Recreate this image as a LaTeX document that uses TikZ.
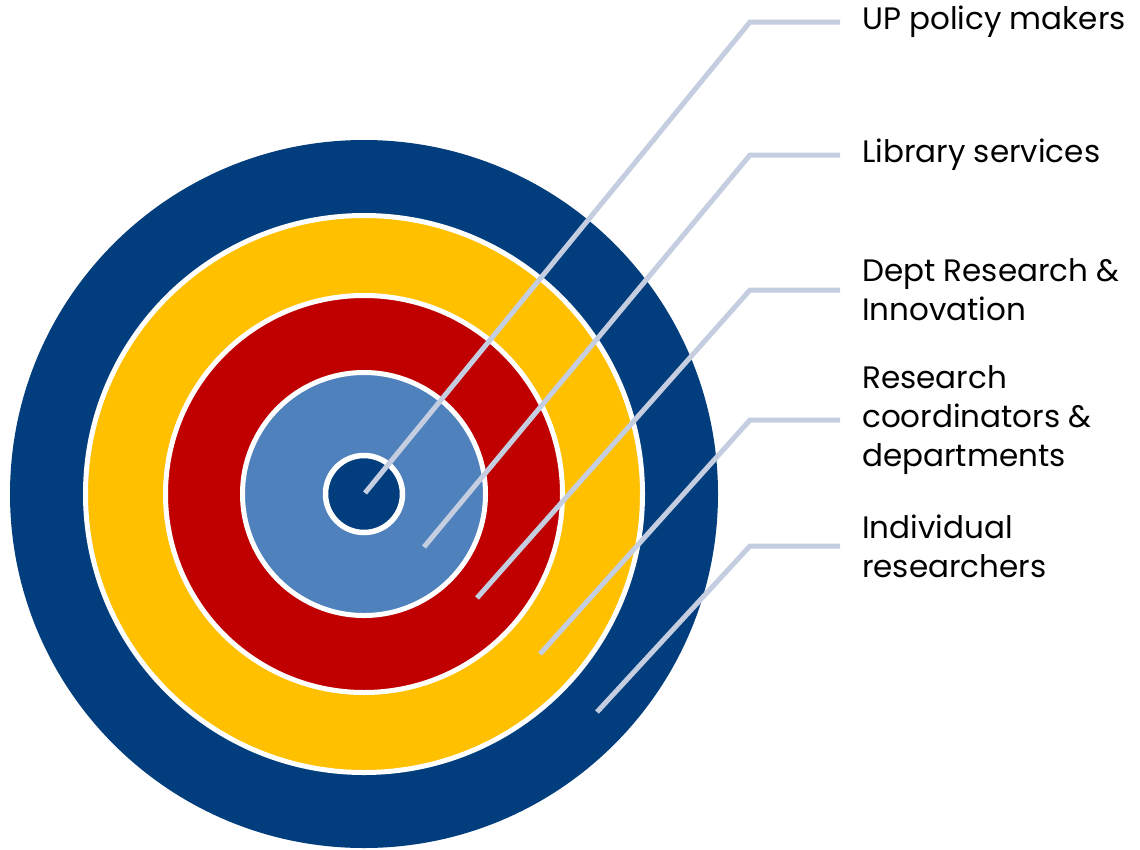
\documentclass[tikz,border=0pt]{standalone}
\usepackage{fontspec}
\setmainfont{Poppins}
\definecolor{ringblue}{RGB}{2,62,125}
\definecolor{ringyellow}{RGB}{255,192,0}
\definecolor{ringred}{RGB}{192,0,0}
\definecolor{ringlight}{RGB}{79,129,189}
\definecolor{leader}{RGB}{196,206,224}

\begin{document}
\begin{tikzpicture}[x=1pt,y=-1pt,
  ring/.style={draw=white,line width=5pt},
  lead/.style={draw=leader,line width=5pt},
  lbl/.style={anchor=west,inner xsep=22pt,inner ysep=0pt,align=left,
    font=\fontsize{31}{39}\selectfont}]
\useasboundingbox (0,0) rectangle (1140,849);

% target rings
\fill[ringblue] (364,494) circle (354pt);
\filldraw[ring,fill=ringyellow] (364,494) circle (278.5pt);
\filldraw[ring,fill=ringred] (364,494) circle (198.5pt);
\filldraw[ring,fill=ringlight] (364,494) circle (121.5pt);
\filldraw[ring,fill=ringblue,line width=5.5pt] (364,494) circle (38.5pt);

% labels
\node[lbl] (policy) at (840,22) {UP policy makers};
\node[lbl] (library) at (840,155) {Library services};
\node[lbl] (dri) at (840,290) {Dept Research \&\\Innovation};
\node[lbl] (coord) at (840,420) {Research\\coordinators \&\\departments};
\node[lbl] (indiv) at (840,546) {Individual\\researchers};

% leader lines
\coordinate (s1) at (365,493);
\coordinate (s2) at (424,547);
\coordinate (s3) at (477,598);
\coordinate (s4) at (540,654);
\coordinate (s5) at (597,712);
\draw[lead] (s1) -- (750,22) -- (policy.west);
\draw[lead] (s2) -- (750,155) -- (library.west);
\draw[lead] (s3) -- (750,290) -- (dri.west);
\draw[lead] (s4) -- (750,420) -- (coord.west);
\draw[lead] (s5) -- (750,546) -- (indiv.west);
\end{tikzpicture}
\end{document}
